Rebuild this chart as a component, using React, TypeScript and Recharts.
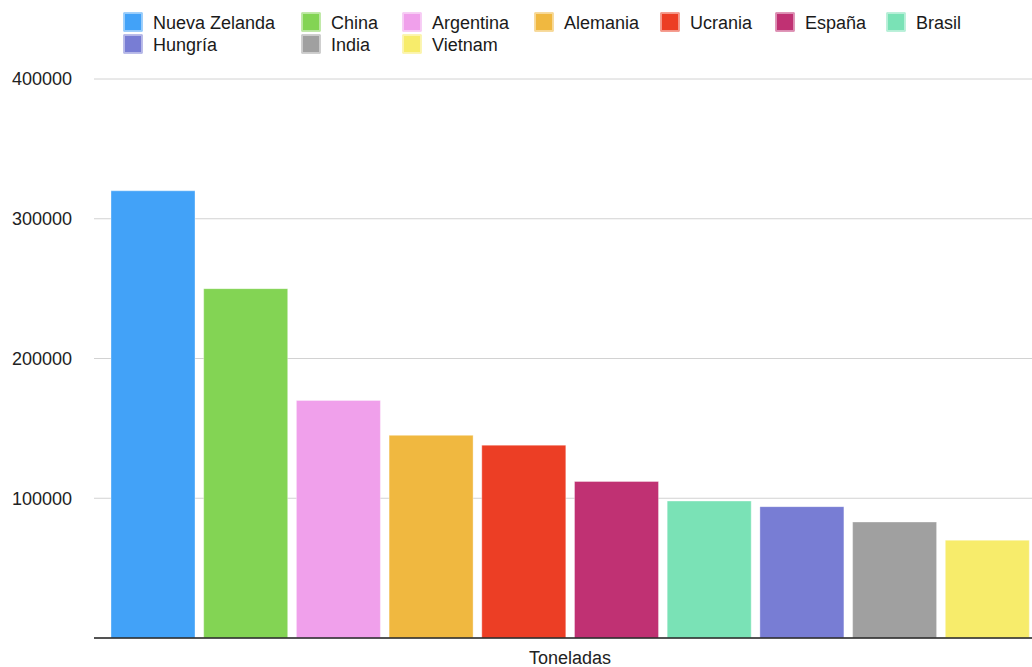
import { BarChart, Bar, XAxis, YAxis, CartesianGrid } from 'recharts';

const paises = ['Nueva Zelanda', 'China', 'Argentina', 'Alemania', 'Ucrania', 'España', 'Brasil', 'Hungría', 'India', 'Vietnam'];
const toneladas = [320000, 250000, 170000, 145000, 138000, 112000, 98000, 94000, 83000, 70000];
const colores = ['#42A2F8', '#83D454', '#F0A0EB', '#F0B840', '#EC3E25', '#C03173', '#7AE2B6', '#787DD4', '#A0A0A0', '#F7EC6B'];
const categoria = 'Toneladas';
const yTicks = [100000, 200000, 300000, 400000];

const font = '"Liberation Sans", Arial, sans-serif';

function Leyenda() {
  return (
    <div
      style={{
        position: 'absolute',
        top: 13,
        left: 124,
        display: 'grid',
        gridTemplateColumns: '178px 101px 132px 126px 115px 111px auto',
        rowGap: 4,
        fontSize: 18,
        color: '#1a1a1a',
        fontFamily: font,
      }}
    >
      {paises.map((p, i) => (
        <div key={p} style={{ display: 'flex', alignItems: 'center', height: 18 }}>
          <span
            style={{
              width: 16,
              height: 16,
              background: colores[i],
              border: '1px solid rgba(255,255,255,0.45)',
              boxShadow: `0 0 0 0.5px ${colores[i]}`,
              marginRight: 11,
              flexShrink: 0,
            }}
          />
          <span style={{ whiteSpace: 'nowrap', lineHeight: '18px', paddingTop: 1 }}>{p}</span>
        </div>
      ))}
    </div>
  );
}

export default function App() {
  const data = [
    paises.reduce((acc, p, i) => {
      acc[p] = toneladas[i];
      return acc;
    }, { name: categoria } as Record<string, string | number>),
  ];

  return (
    <div style={{ position: 'fixed', top: 0, left: 0, width: 1032, height: 667, background: '#fff', fontFamily: font }}>
      <BarChart
        width={1032}
        height={667}
        data={data}
        margin={{ top: 79, right: -14, bottom: 0, left: 0 }}
        barCategoryGap={17}
        barGap={8.7}
      >
        <CartesianGrid horizontal vertical={false} stroke="#d2d2d2" strokeWidth={1} />
        <XAxis
          dataKey="name"
          height={29}
          tickLine={false}
          tickSize={0}
          tickMargin={13}
          axisLine={{ stroke: '#222', strokeWidth: 1.5 }}
          tick={{ fontSize: 18, fill: '#222', fontFamily: font }}
        />
        <YAxis
          width={94}
          domain={[0, 400000]}
          ticks={yTicks}
          axisLine={false}
          tickLine={false}
          tickSize={0}
          tickMargin={22}
          tick={{ fontSize: 18, fill: '#222', fontFamily: font }}
        />
        {paises.map((p, i) => (
          <Bar
            key={p}
            dataKey={p}
            fill={colores[i]}
            stroke="rgba(255,255,255,0.35)"
            strokeWidth={1}
            isAnimationActive={false}
          />
        ))}
      </BarChart>
      <Leyenda />
    </div>
  );
}
